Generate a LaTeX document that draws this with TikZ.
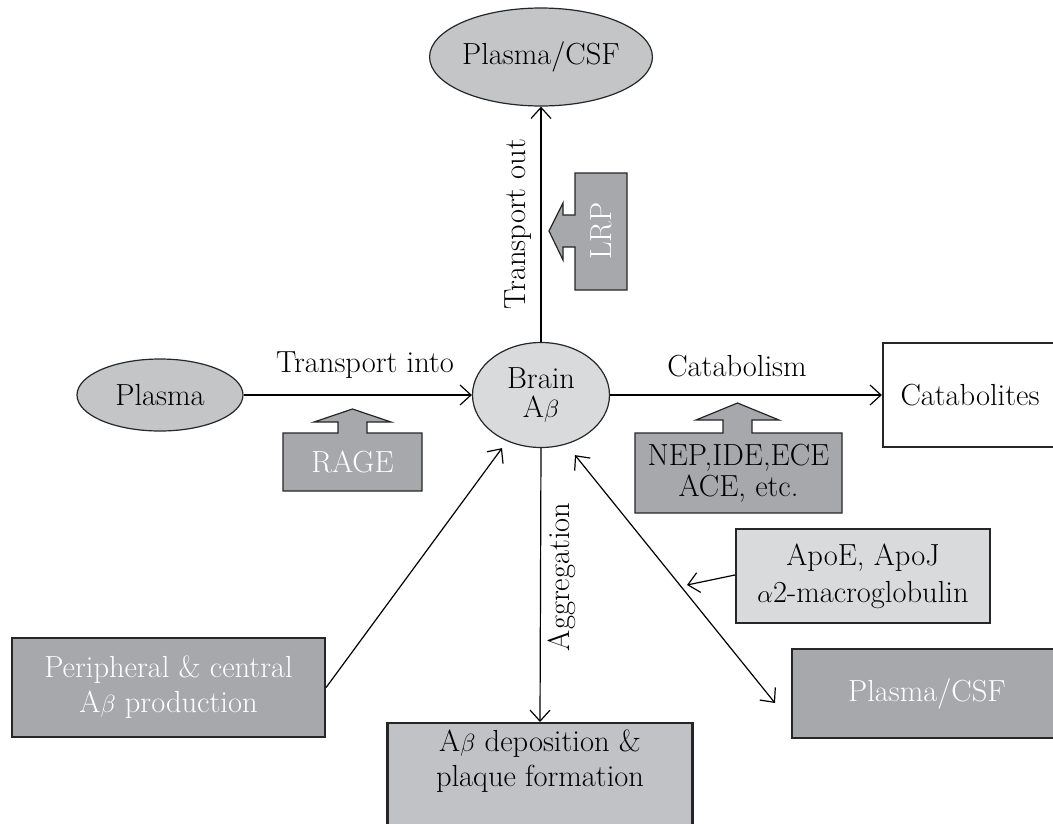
\documentclass[tikz,border=0pt]{standalone}
\usetikzlibrary{arrows.meta,positioning,shapes.geometric,calc}
\definecolor{boxgray}{HTML}{A7A8AB}
\definecolor{ellgray}{HTML}{C4C5C7}
\definecolor{palegray}{HTML}{D9DADC}
\definecolor{depgray}{HTML}{C1C2C5}

\begin{document}
\begin{tikzpicture}[x=1pt,y=-1pt,font=\fontsize{30.5}{35}\selectfont,
    arr/.style={-{Straight Barb[length=11pt,width=20pt]},line width=1.2pt},
    dblarr/.style={{Straight Barb[length=11pt,width=20pt]}-{Straight Barb[length=11pt,width=20pt]},line width=1.2pt},
    ell/.style={ellipse,draw=black!85,line width=1.2pt,inner sep=0pt,align=center},
    darkbox/.style={rectangle,draw=black!85,line width=2.2pt,fill=boxgray,text=white,align=center,inner sep=0pt},
    lightbox/.style={rectangle,draw=black!85,line width=2.2pt,align=center,inner sep=0pt},
    blockarr/.style={draw=black!85,line width=1.2pt,fill=boxgray}]
    \useasboundingbox (0,0) rectangle (1053,823);
    \clip (0,0) rectangle (1053,823);

    % Ellipses
    \node[ell,fill=ellgray,minimum width=214,minimum height=98] (csftop) at (541,57) {Plasma/CSF};
    \node[ell,fill=palegray,minimum width=137,minimum height=105] (brain) at (541,395) {Brain\\[-6pt]A$\beta$};
    \node[ell,fill=ellgray,minimum width=166,minimum height=72] (plasma) at (160,395) {Plasma};

    % Boxes
    \node[lightbox,fill=white,minimum width=174,minimum height=104] (catab) at (970,395) {Catabolites};
    \node[lightbox,fill=depgray,minimum width=305,minimum height=110,anchor=north] (deposit) at (540,722) {};
    \node[align=center] (deptext) at ([yshift=-39pt]deposit.north) {A$\beta$ deposition \&\\plaque formation};
    \node[darkbox,minimum width=313,minimum height=99] (periph) at (168.5,687.5) {Peripheral \& central\\A$\beta$ production};
    \node[darkbox,minimum width=270,minimum height=89] (csfbox) at (927,693.5) {Plasma/CSF};
    \node[lightbox,fill=palegray,minimum width=254,minimum height=94] (apo) at (863,576) {ApoE, ApoJ\\[2pt]$\alpha$2-macroglobulin};

    % Block arrows
    \draw[blockarr] (283,491) -- (283,433) -- (338,433) -- (338,422) -- (314,422) -- (352.5,409)
        -- (391,422) -- (367,422) -- (367,433) -- (422,433) -- (422,491) -- cycle;
    \node[text=white] (rage) at (352.5,462) {RAGE};
    \draw[blockarr] (635,513) -- (635,433) -- (723,433) -- (723,420) -- (696,420) -- (737.5,403)
        -- (779,420) -- (752,420) -- (752,433) -- (842,433) -- (842,513) -- cycle;
    \node[align=center] (nep) at (738.5,473) {NEP,IDE,ECE\\[-4pt]ACE, etc.};
    \draw[blockarr] (627,173) -- (575,173) -- (575,215) -- (563,215) -- (563,203) -- (549,231)
        -- (563,260) -- (563,247) -- (575,247) -- (575,290) -- (627,290) -- cycle;
    \node[text=white,rotate=90] (lrp) at (601,231) {LRP};

    % Connectors
    \draw[arr] (brain.north) -- (csftop.south)
        node[midway,rotate=90,anchor=south,inner sep=9pt] {Transport out};
    \draw[arr] (plasma.east) -- (brain.west);
    \node (lblin) at (365,365) {Transport into};
    \draw[arr] (brain.east) -- (catab.west);
    \node (lblcat) at (737,366) {Catabolism};
    \draw[arr] (brain.south) -- (deposit.north)
        node[pos=0.47,rotate=90,anchor=north,inner sep=7pt] {Aggregation};
    \draw[arr] (periph.east) -- ([shift={(-39,0)}]brain.south);
    \coordinate (csfend) at (775,703);
    \draw[dblarr] ([shift={(34,7)}]brain.south) -- (csfend);
    \coordinate (apotip) at (687,585);
    \draw[arr] ([yshift=1pt]apo.west) -- (apotip);
\end{tikzpicture}
\end{document}
